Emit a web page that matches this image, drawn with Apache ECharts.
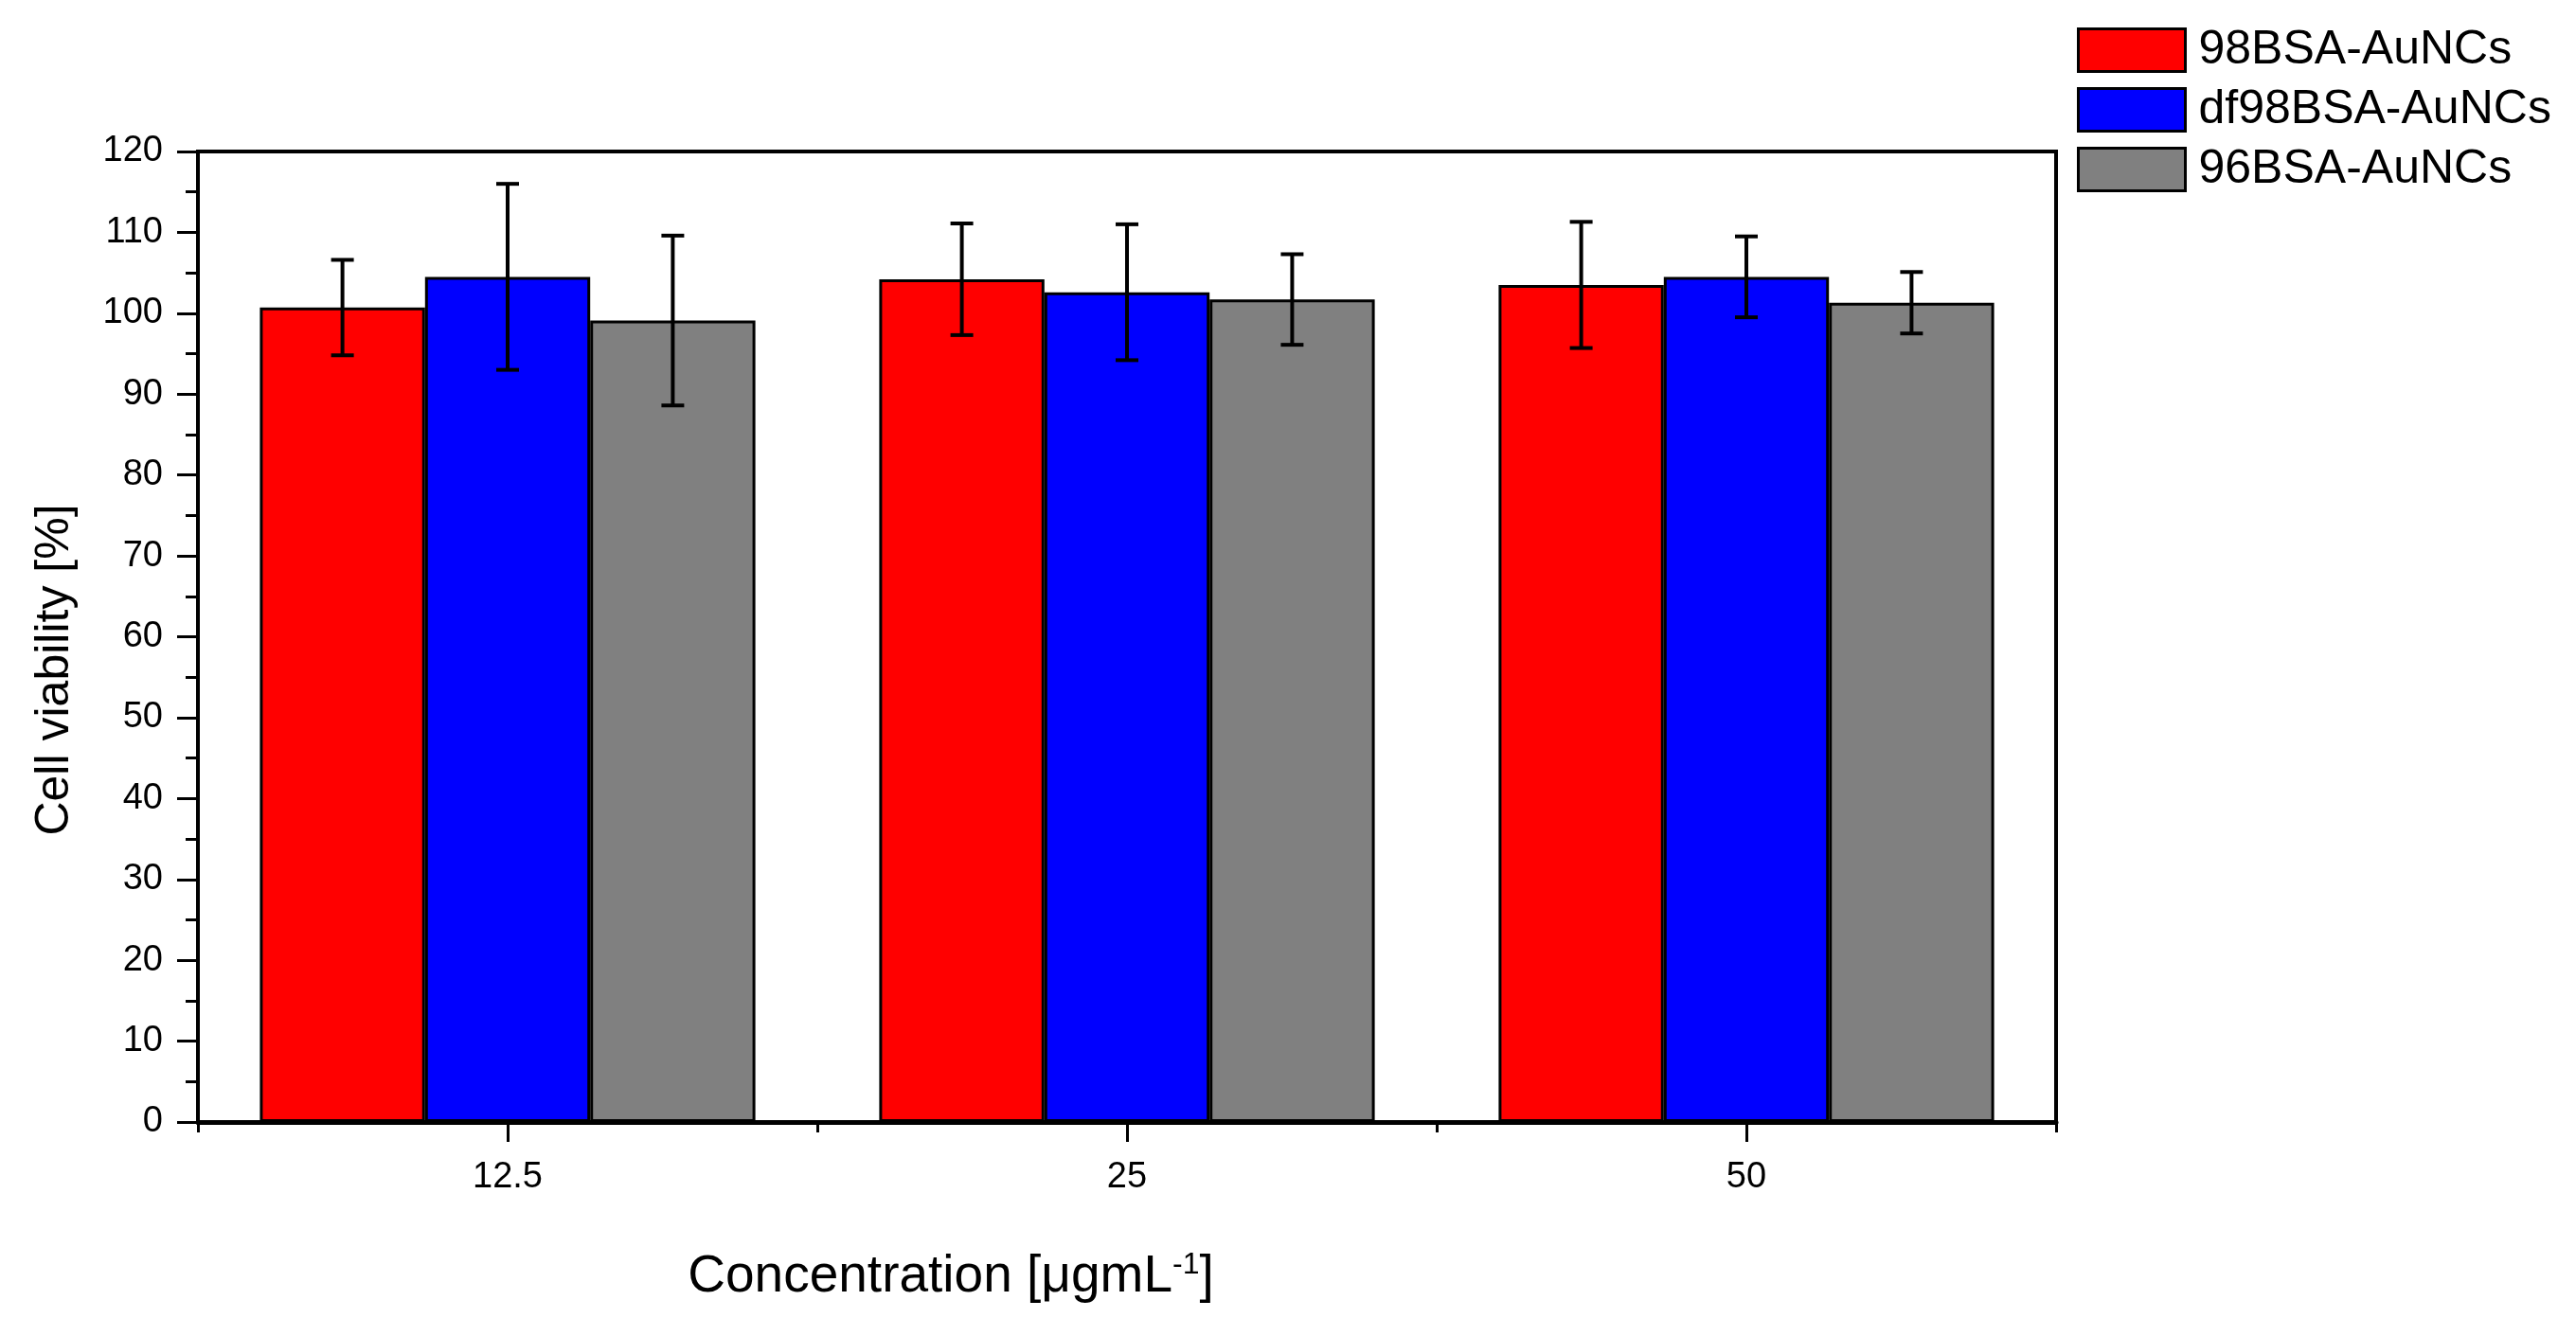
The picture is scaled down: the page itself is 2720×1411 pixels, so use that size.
<!DOCTYPE html>
<html>
<head>
<meta charset="utf-8">
<script src="https://cdn.jsdelivr.net/npm/echarts@6/dist/echarts.min.js"></script>
<style>html,body{margin:0;padding:0;background:#fff}#c{width:2720px;height:1411px}</style>
</head>
<body>
<div id="c"></div>
<script>
const categories = ['12.5', '25', '50'];
const seriesNames = ['98BSA-AuNCs', 'df98BSA-AuNCs', '96BSA-AuNCs'];
const red = [100.7, 104.2, 103.5];
const redErr = [5.9, 6.9, 7.8];
const blue = [104.5, 102.6, 104.5];
const blueErr = [11.5, 8.4, 5.0];
const gray = [99.1, 101.7, 101.3];
const grayErr = [10.5, 5.6, 3.8];
const yTicks = [0, 10, 20, 30, 40, 50, 60, 70, 80, 90, 100, 110, 120];

const FONT = '"Liberation Sans", Arial, sans-serif';
const colors = ['#ff0000', '#0000ff', '#808080'];
const values = [red, blue, gray];
const errs = [redErr, blueErr, grayErr];
const GAP = 0.2;

function errData(v, e) {
  return v.map((m, i) => [i, m - e[i], m + e[i]]);
}
function makeErr(k) {
  return function (params, api) {
    const ci = api.value(0);
    const lo = api.coord([ci, api.value(1)]);
    const hi = api.coord([ci, api.value(2)]);
    const bandW = api.size([1, 0])[0];
    const barW = bandW * (1 - GAP) / 3;
    const x = lo[0] + (k - 1) * barW;
    const cap = 12;
    const st = { stroke: '#000', lineWidth: 4 };
    return {
      type: 'group',
      children: [
        { type: 'line', shape: { x1: x, y1: lo[1], x2: x, y2: hi[1] }, style: st },
        { type: 'line', shape: { x1: x - cap, y1: lo[1], x2: x + cap, y2: lo[1] }, style: st },
        { type: 'line', shape: { x1: x - cap, y1: hi[1], x2: x + cap, y2: hi[1] }, style: st }
      ]
    };
  };
}

const series = [];
for (let k = 0; k < 3; k++) {
  series.push({
    name: seriesNames[k],
    type: 'bar',
    data: values[k],
    barGap: '0%',
    barCategoryGap: (GAP * 100) + '%',
    itemStyle: { color: colors[k], borderColor: '#000', borderWidth: 3 },
    z: 2
  });
}
for (let k = 0; k < 3; k++) {
  series.push({
    name: 'err' + k,
    type: 'custom',
    renderItem: makeErr(k),
    data: errData(values[k], errs[k]),
    encode: { x: 0, y: [1, 2] },
    z: 5,
    silent: true
  });
}

const chart = echarts.init(document.getElementById('c'));
chart.setOption({
  backgroundColor: '#fff',
  animation: false,
  textStyle: { fontFamily: FONT },
  legend: {
    data: seriesNames,
    orient: 'vertical',
    left: 2193,
    top: 28,
    padding: 0,
    itemWidth: 113,
    itemHeight: 45,
    itemGap: 13,
    icon: 'rect',
    itemStyle: { borderColor: '#000', borderWidth: 3 },
    textStyle: { fontSize: 50, color: '#000', fontFamily: FONT, padding: [0, 0, 0, 9] }
  },
  grid: {
    left: 209, top: 160, width: 1962, height: 1025,
    show: true, borderColor: '#000', borderWidth: 4, backgroundColor: 'transparent'
  },
  xAxis: [
    {
      type: 'category',
      data: categories,
      position: 'bottom',
      name: 'Concentration [μgmL{sup|-1}]',
      nameLocation: 'middle',
      nameGap: 135,
      nameTextStyle: {
        fontSize: 55, color: '#000', fontFamily: FONT, padding: [0, 372, 0, 0],
        rich: { sup: { fontSize: 32, verticalAlign: 'top', padding: [0, 0, 26, 0], fontFamily: FONT } }
      },
      axisLine: { show: true, lineStyle: { color: '#000', width: 5 } },
      axisTick: { show: true, alignWithLabel: true, length: 21, lineStyle: { color: '#000', width: 3 } },
      axisLabel: { fontSize: 38, color: '#000', margin: 40, fontFamily: FONT },
      splitLine: { show: false }
    },
    {
      type: 'category',
      data: categories,
      position: 'bottom',
      axisLine: { show: false },
      axisTick: { show: true, alignWithLabel: false, length: 11, lineStyle: { color: '#000', width: 3 } },
      axisLabel: { show: false },
      splitLine: { show: false }
    }
  ],
  yAxis: {
    type: 'value',
    min: yTicks[0],
    max: yTicks[yTicks.length - 1],
    interval: yTicks[1] - yTicks[0],
    name: 'Cell viability [%]',
    nameLocation: 'middle',
    nameGap: 126,
    nameTextStyle: { fontSize: 50, color: '#000', fontFamily: FONT, padding: [0, 70, 0, 0] },
    axisLine: { show: true, lineStyle: { color: '#000', width: 4 } },
    axisTick: { show: true, length: 22, lineStyle: { color: '#000', width: 3 } },
    minorTick: { show: true, splitNumber: 2, length: 13, lineStyle: { color: '#000', width: 3 } },
    axisLabel: { fontSize: 38, color: '#000', margin: 37, fontFamily: FONT },
    splitLine: { show: false }
  },
  series: series
});
</script>
</body>
</html>
